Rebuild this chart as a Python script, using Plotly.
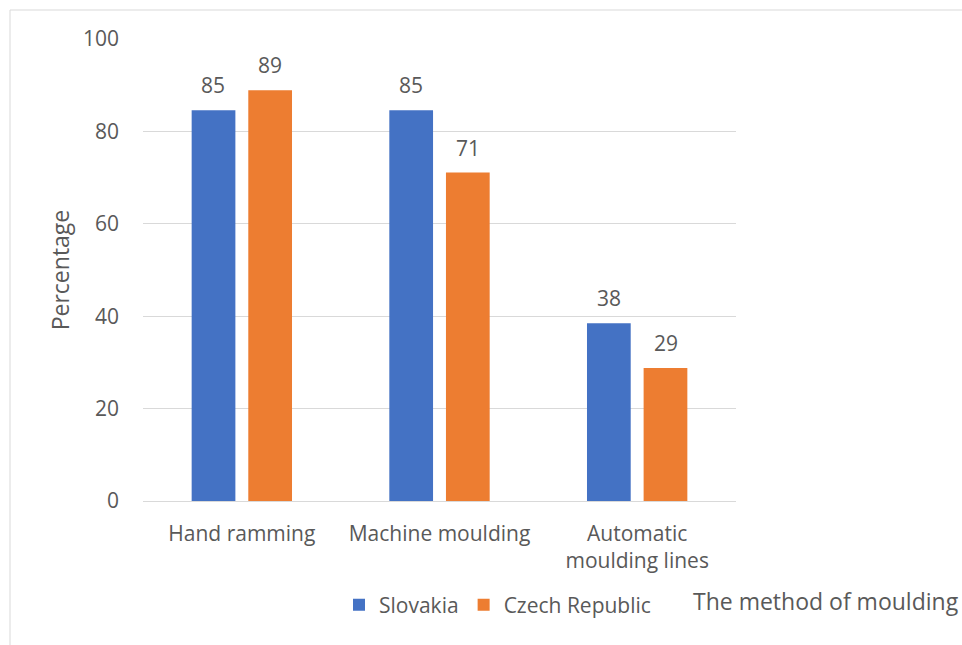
import plotly.graph_objects as go

categories = ["Hand ramming", "Machine moulding", "Automatic<br>moulding lines"]
slovakia = [84.6, 84.6, 38.5]
czech = [88.9, 71.1, 28.8]
series_names = ["Slovakia", "Czech Republic"]
colors = ["#4472C4", "#ED7D31"]

W, H = 962, 645
ml, mr, mt, mb = 143, 226, 39, 144

font_fam = "Open Sans, Noto Sans, sans-serif"
txt_col = "#595959"

fig = go.Figure()
annots = []
shifts = [-28.5, 28.5]
for i, (name, vals, c) in enumerate(zip(series_names, [slovakia, czech], colors)):
    fig.add_trace(go.Bar(
        x=categories, y=vals, name=name, marker=dict(color=c, line=dict(width=0)),
    ))
    for cat, v in zip(categories, vals):
        annots.append(dict(x=cat, y=v, xref="x", yref="y", text=f"{v:.0f}", showarrow=False,
                           xshift=shifts[i], yshift=25, yanchor="middle",
                           font=dict(size=21, color=txt_col, family=font_fam)))

pw = W - ml - mr
ph = H - mt - mb
def px_x(p):
    return (p - ml) / pw
def px_y(p):
    return (H - mb - p) / ph

annots.append(dict(text="The method of moulding", xref="paper", yref="paper",
                   x=px_x(961), y=px_y(601), xanchor="right", yanchor="middle",
                   showarrow=False, font=dict(size=23, color=txt_col, family=font_fam)))

fig.update_layout(
    width=W, height=H,
    margin=dict(l=ml, r=mr, t=mt, b=mb),
    paper_bgcolor="white", plot_bgcolor="white",
    barmode="group", bargap=0.427, bargroupgap=0.228,
    font=dict(family=font_fam, color=txt_col, size=21),
    showlegend=True,
    legend=dict(orientation="h", x=px_x(339), y=px_y(605), xanchor="left", yanchor="middle",
                font=dict(size=21, color=txt_col, family=font_fam),
                traceorder="normal"),
    xaxis=dict(showgrid=False, showline=False, ticks="", tickfont=dict(size=21, color=txt_col),
               ticklabelstandoff=18),
    yaxis=dict(range=[0, 100], dtick=20, showgrid=True, gridcolor="#D9D9D9", gridwidth=1,
               zeroline=True, zerolinecolor="#D9D9D9", zerolinewidth=1, showline=False,
               ticks="", tickfont=dict(size=21, color=txt_col), ticklabelstandoff=23,
               title=dict(text="Percentage", font=dict(size=23, color=txt_col), standoff=6)),
    annotations=annots,
    shapes=[
        dict(type="line", xref="paper", yref="paper", x0=px_x(10), x1=px_x(962), y0=px_y(10), y1=px_y(10),
             line=dict(color="#D9D9D9", width=1)),
        dict(type="line", xref="paper", yref="paper", x0=px_x(10), x1=px_x(10), y0=px_y(10), y1=px_y(645),
             line=dict(color="#D9D9D9", width=1)),
    ],
)

fig.write_html("out.html")
